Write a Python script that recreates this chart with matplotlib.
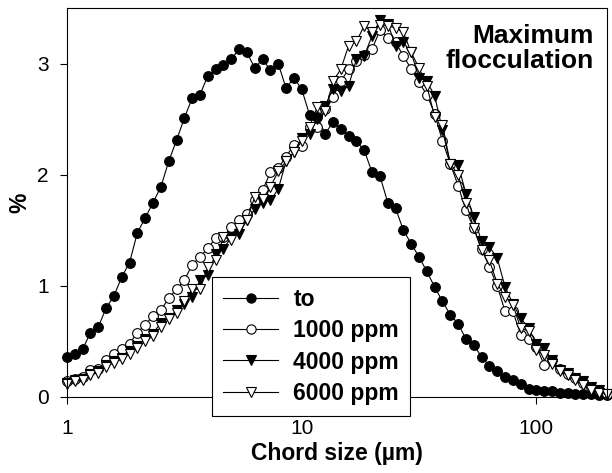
import numpy as np
import matplotlib
matplotlib.use("Agg")
import matplotlib.pyplot as plt

# FBRM chord-size channels (30 log-spaced channels per decade), 1 to ~200 um
chord_size = np.logspace(0, 69 / 30, 70)

to_vals = [0.36, 0.39, 0.43, 0.58, 0.63, 0.80, 0.91, 1.08, 1.21, 1.48,
           1.61, 1.75, 1.89, 2.12, 2.31, 2.51, 2.69, 2.72, 2.89, 2.95,
           2.99, 3.04, 3.13, 3.10, 2.96, 3.04, 2.94, 3.00, 2.78, 2.87,
           2.77, 2.54, 2.52, 2.37, 2.47, 2.41, 2.35, 2.30, 2.22, 2.02,
           1.99, 1.75, 1.70, 1.50, 1.38, 1.26, 1.13, 0.99, 0.86, 0.74,
           0.66, 0.52, 0.47, 0.36, 0.28, 0.23, 0.18, 0.15, 0.12, 0.07,
           0.06, 0.05, 0.05, 0.04, 0.04, 0.03, 0.03, 0.03, 0.02, 0.02]

ppm1000 = [0.14, 0.16, 0.18, 0.24, 0.25, 0.33, 0.39, 0.43, 0.48, 0.58,
           0.65, 0.73, 0.78, 0.89, 0.97, 1.05, 1.19, 1.26, 1.34, 1.43,
           1.44, 1.53, 1.59, 1.65, 1.77, 1.86, 2.02, 2.06, 2.16, 2.27,
           2.26, 2.43, 2.43, 2.59, 2.70, 2.84, 2.95, 3.02, 3.08, 3.13,
           3.30, 3.23, 3.19, 3.07, 2.95, 2.83, 2.72, 2.55, 2.30, 2.10,
           1.90, 1.68, 1.52, 1.33, 1.17, 1.00, 0.77, 0.77, 0.56, 0.52,
           0.45, 0.29, 0.33, 0.25, 0.21, 0.17, 0.13, 0.09, 0.06, 0.03]

ppm4000 = [0.13, 0.15, 0.16, 0.21, 0.23, 0.29, 0.32, 0.35, 0.41, 0.46,
           0.52, 0.57, 0.67, 0.71, 0.78, 0.84, 0.90, 1.05, 1.10, 1.29,
           1.33, 1.44, 1.47, 1.59, 1.69, 1.75, 1.77, 1.87, 2.12, 2.20,
           2.33, 2.37, 2.50, 2.62, 2.77, 2.75, 2.80, 3.04, 3.07, 3.25,
           3.39, 3.36, 3.16, 3.19, 3.10, 2.87, 2.84, 2.71, 2.40, 2.10,
           2.09, 1.83, 1.62, 1.40, 1.35, 1.25, 0.99, 0.84, 0.71, 0.62,
           0.48, 0.44, 0.33, 0.24, 0.22, 0.17, 0.14, 0.09, 0.06, 0.03]

ppm6000 = [0.12, 0.14, 0.15, 0.20, 0.22, 0.27, 0.31, 0.34, 0.39, 0.44,
           0.50, 0.55, 0.63, 0.70, 0.76, 0.86, 0.97, 0.97, 1.17, 1.23,
           1.44, 1.41, 1.52, 1.59, 1.80, 1.78, 1.89, 2.03, 2.12, 2.20,
           2.30, 2.43, 2.61, 2.57, 2.84, 2.95, 3.16, 3.20, 3.34, 3.28,
           3.35, 3.34, 3.32, 3.28, 3.10, 2.96, 2.80, 2.52, 2.45, 2.10,
           2.00, 1.75, 1.52, 1.32, 1.23, 1.02, 0.90, 0.83, 0.62, 0.59,
           0.42, 0.38, 0.30, 0.23, 0.20, 0.15, 0.11, 0.06, 0.04, 0.03]

series_labels = ["to", "1000 ppm", "4000 ppm", "6000 ppm"]
x_ticks = [1, 10, 100]
x_ticklabels = ["1", "10", "100"]
y_ticks = [0, 1, 2, 3]

plt.rcParams['font.family'] = ['Liberation Sans', 'DejaVu Sans']

fig = plt.figure(figsize=(6.12, 4.73), dpi=100)
ax = fig.add_axes([67 / 612, 1 - 397 / 473, 540 / 612, 389 / 473])

styles = [
    dict(marker='o', mfc='black', mec='black'),
    dict(marker='o', mfc='white', mec='black'),
    dict(marker='v', mfc='black', mec='black'),
    dict(marker='v', mfc='white', mec='black'),
]
for vals, lab, st in zip([to_vals, ppm1000, ppm4000, ppm6000], series_labels, styles):
    ax.plot(chord_size, vals, color='black', lw=0.8, ms=7, mew=0.8,
            label=lab, clip_on=False, **st)

ax.set_xscale('log')
ax.set_xlim(1, 200)
ax.set_ylim(0, 3.5)
ax.set_xticks(x_ticks)
ax.set_xticklabels(x_ticklabels)
ax.xaxis.set_minor_locator(matplotlib.ticker.NullLocator())
ax.set_yticks(y_ticks)
ax.tick_params(direction='out', length=5, width=0.8, labelsize=15)
ax.tick_params(axis='x', pad=11)
ax.tick_params(axis='y', pad=8)
for s in ax.spines.values():
    s.set_linewidth(0.8)

ax.set_xlabel("Chord size (µm)", fontsize=16.5, fontweight='bold', labelpad=3)
ax.set_ylabel("%", fontsize=16.5, fontweight='bold', labelpad=4)

ax.text(0.975, 0.96, "Maximum\nflocculation", transform=ax.transAxes,
        ha='right', va='top', fontsize=19, fontweight='bold', linespacing=1.1)

leg = ax.legend(loc='upper left', bbox_to_anchor=(212 / 612, 1 - 277 / 473),
                bbox_transform=fig.transFigure, borderaxespad=0,
                prop=dict(size=16.5, weight='bold'), frameon=True,
                fancybox=False, edgecolor='black', framealpha=1,
                handlelength=2.4, handletextpad=0.65, labelspacing=0.35,
                borderpad=0.5, markerscale=0.95)
leg.get_frame().set_linewidth(0.8)

fig.savefig("out.png", dpi=100)
